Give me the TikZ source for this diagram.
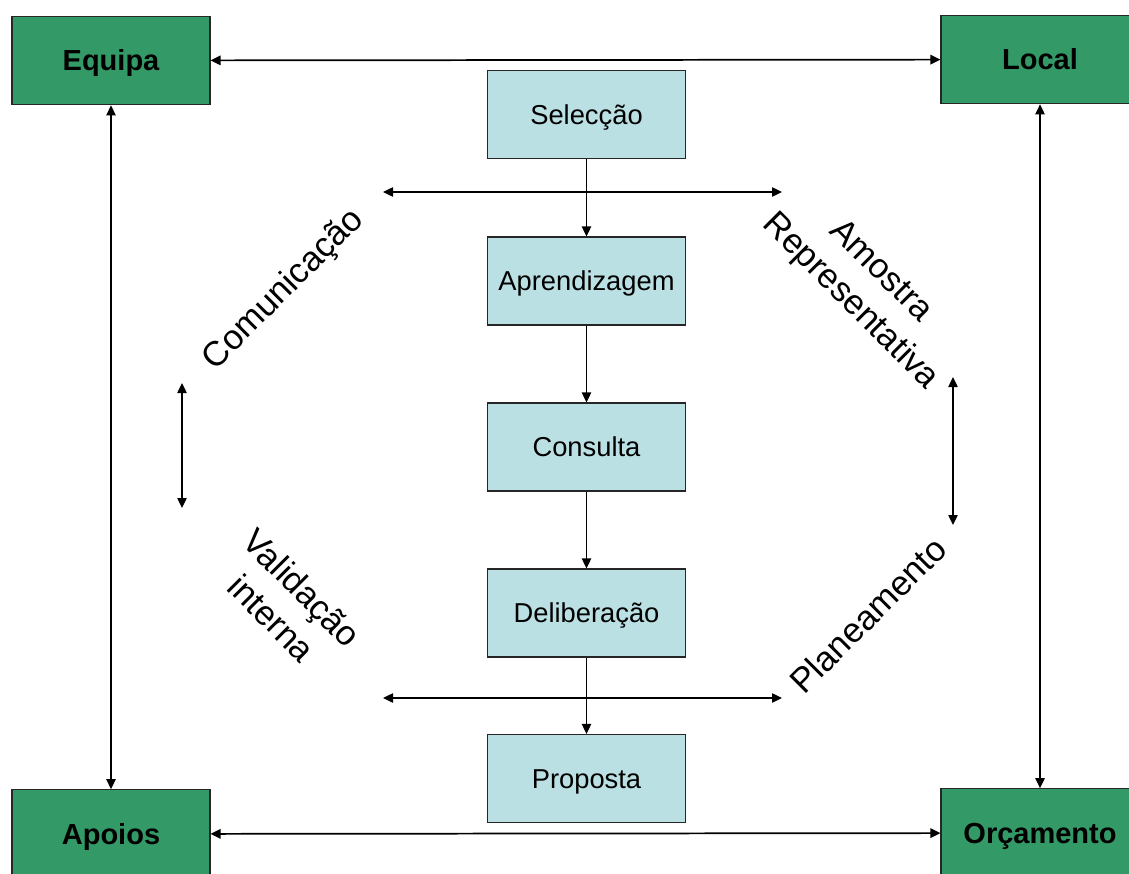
\documentclass[tikz,border=0pt]{standalone}
\usepackage{fontspec}
\setmainfont{Liberation Sans}
\usepackage{xcolor}
\usetikzlibrary{arrows.meta}
\definecolor{cornergreen}{RGB}{51,153,102}
\definecolor{stageblue}{RGB}{187,224,227}

\begin{document}
\begin{tikzpicture}[x=0.75pt, y=-0.75pt,
  corner/.style={draw=black!85, fill=cornergreen, line width=0.8pt,
    minimum width=148.5pt, minimum height=66.5pt, inner sep=0pt,
    text height=15.6pt, text depth=0pt,
    font=\fontsize{21.75}{26}\selectfont\bfseries},
  stage/.style={draw=black!85, fill=stageblue, line width=0.8pt,
    minimum width=149pt, minimum height=66pt, inner sep=0pt,
    text height=14.7pt, text depth=0pt,
    font=\fontsize{20.5}{24}\selectfont},
  aspect/.style={font=\fontsize{26}{32}\selectfont, align=center, inner sep=0pt},
  tip/.tip={Triangle[length=7.5pt,width=7pt]},
  link/.style={tip-tip, line width=1.3pt},
  flow/.style={-tip, line width=1pt}]
\useasboundingbox (0,0) rectangle (1129,874);

% corners
\node[corner] (equipa) at (111,60.5) {Equipa};
\node[corner] (local) at (1040,59.5) {Local};
\node[corner] (apoios) at (111,834) {Apoios};
\node[corner] (orcamento) at (1040,833) {Orçamento};

\draw[link] (equipa) -- (local);
\draw[link] (apoios) -- (orcamento);
\draw[link] (equipa) -- (apoios);
\draw[link] (local) -- (orcamento);

% stages
\node[stage] (selec) at (586.5,114.5) {Selecção};
\node[stage] (aprend) at (586.5,281) {Aprendizagem};
\node[stage] (consul) at (586.5,447) {Consulta};
\node[stage] (delib) at (586.5,613) {Deliberação};
\node[stage] (propos) at (586.5,778.5) {Proposta};

\draw[flow] (selec) -- (aprend);
\draw[flow] (aprend) -- (consul);
\draw[flow] (consul) -- (delib);
\draw[flow] (delib) -- (propos);

% aspects
\node[aspect, rotate=45] (comun) at (284,290) {Comunicação};
\node[aspect, rotate=-45] (amostra) at (865,287) {Amostra\\Representativa};
\node[aspect, rotate=-45] (valid) at (287,603) {Validação\\interna};
\node[aspect, rotate=45] (plane) at (868,615) {Planeamento};

\coordinate (tl) at (383,192);
\coordinate (tr) at (782,192);
\coordinate (bl) at (383,698);
\coordinate (br) at (782,698);
\coordinate (lt) at (182,383);
\coordinate (lb) at (182,508);
\coordinate (rt) at (953,377);
\coordinate (rb) at (953,525);

\draw[tip-tip, line width=1pt] (tl) -- (tr);
\draw[tip-tip, line width=1pt] (bl) -- (br);
\draw[tip-tip, line width=1pt] (lt) -- (lb);
\draw[tip-tip, line width=1pt] (rt) -- (rb);
\end{tikzpicture}
\end{document}
